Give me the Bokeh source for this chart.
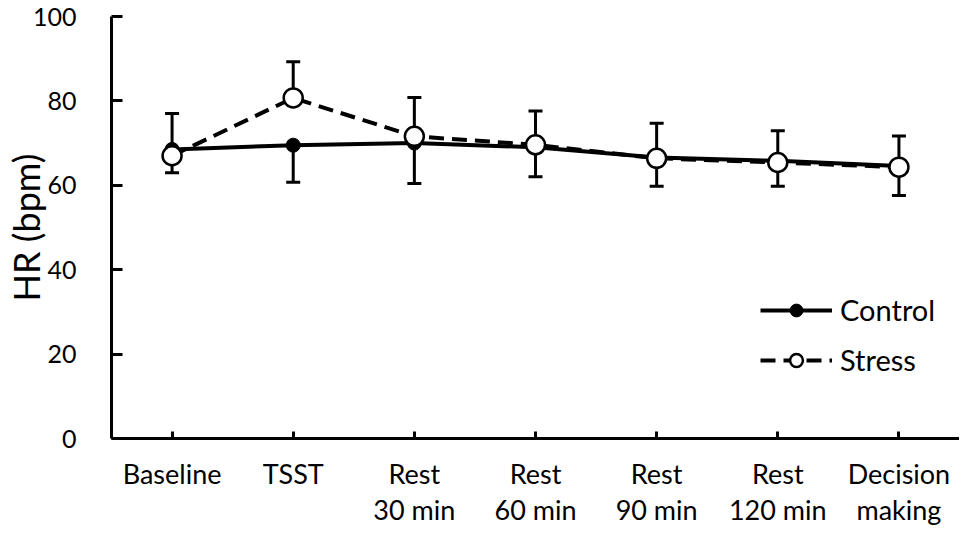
from bokeh.plotting import figure
from bokeh.models import (Whisker, TeeHead, ColumnDataSource, Legend, LegendItem,
                          FactorRange, Range1d)
from bokeh.embed import file_html
from bokeh.resources import INLINE

categories = ["Baseline", "TSST", "Rest\n30 min", "Rest\n60 min", "Rest\n90 min", "Rest\n120 min", "Decision\nmaking"]
control = [68.5, 69.5, 70.0, 69.0, 66.6, 65.8, 64.6]
control_sd = [5.5, 8.8, 9.6, 7.0, 6.8, 6.0, 7.0]
stress = [67.0, 80.7, 71.6, 69.6, 66.4, 65.4, 64.3]
stress_sd = [10.0, 8.6, 9.2, 8.0, 8.3, 7.5, 7.4]
y_ticks = [0, 20, 40, 60, 80, 100]

FONT = "Lato"

p = figure(x_range=FactorRange(*categories, range_padding=0),
           y_range=Range1d(0, 100),
           width=959, height=532, output_backend="svg", toolbar_location=None,
           min_border_left=102, min_border_right=0, min_border_top=16, min_border_bottom=94)
p.outline_line_color = None
p.grid.grid_line_color = None

src = ColumnDataSource(dict(
    x=categories, c=control, s=stress,
    c_lo=[v - e for v, e in zip(control, control_sd)],
    s_hi=[v + e for v, e in zip(stress, stress_sd)],
))

cw = Whisker(source=src, base="x", upper="c", lower="c_lo", line_width=3, line_color="black",
             upper_head=None, lower_head=TeeHead(size=14, line_width=3, line_color="black"))
sw = Whisker(source=src, base="x", upper="s_hi", lower="s", line_width=3, line_color="black",
             lower_head=None, upper_head=TeeHead(size=14, line_width=3, line_color="black"))
p.add_layout(cw)
p.add_layout(sw)

cl = p.line("x", "c", source=src, line_color="black", line_width=4)
cm = p.scatter("x", "c", source=src, size=14, fill_color="black", line_color="black")
sl = p.line("x", "s", source=src, line_color="black", line_width=4, line_dash="15 8")
sm = p.scatter("x", "s", source=src, size=19, fill_color="white", line_color="black", line_width=2.5)

legend = Legend(items=[LegendItem(label="Control", renderers=[cl, cm]),
                       LegendItem(label="Stress", renderers=[sl, sm])],
                location=(649, 61), border_line_color=None, background_fill_alpha=0,
                glyph_width=72, glyph_height=32, spacing=15, label_standoff=8,
                label_text_font=FONT, label_text_font_size="29px", label_text_color="black",
                label_height=32, padding=4, margin=0)
p.add_layout(legend, "center")

xa = p.xaxis[0]
for ax in (xa, p.yaxis[0]):
    ax.axis_line_width = 3
    ax.axis_line_color = "black"
    ax.major_tick_line_width = 3
    ax.major_tick_line_color = "black"
    ax.minor_tick_line_color = None
    ax.major_label_text_font = FONT
    ax.major_label_text_color = "black"
    ax.major_tick_out = 0

xa.major_label_text_font_size = "27px"
xa.major_label_orientation = "horizontal"
xa.major_label_text_line_height = 1.12
xa.major_tick_in = 7
xa.major_label_standoff = 18

p.yaxis.major_label_text_font_size = "25px"
p.yaxis.major_tick_in = 11
p.yaxis.major_label_standoff = 35
p.yaxis.ticker = y_ticks
p.yaxis.axis_label = "HR (bpm)"
p.yaxis.axis_label_text_font = FONT
p.yaxis.axis_label_text_font_size = "36px"
p.yaxis.axis_label_text_font_style = "normal"
p.yaxis.axis_label_text_color = "black"
p.yaxis.axis_label_standoff = -18

open("out.html", "w").write(file_html(p, INLINE))
